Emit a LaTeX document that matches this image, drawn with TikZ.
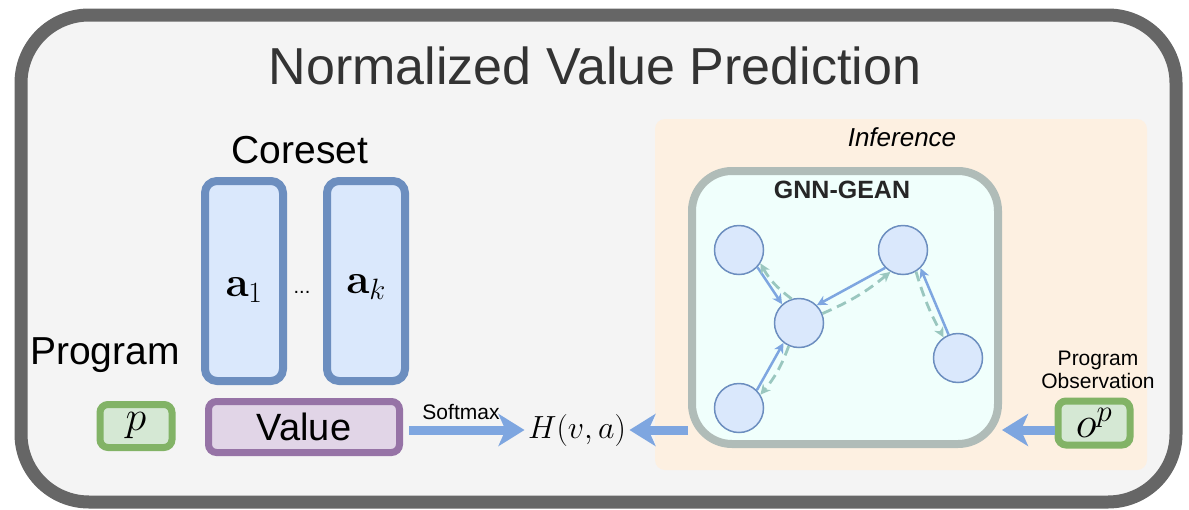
\RequirePackage{fix-cm}
\documentclass[tikz,border=0pt]{standalone}
\usepackage[no-math]{fontspec}
\setmainfont{Liberation Sans}
\usetikzlibrary{arrows.meta}
\definecolor{frame}{HTML}{666666}
\definecolor{bgfill}{HTML}{F4F4F4}
\definecolor{peach}{HTML}{FDF0E1}
\definecolor{gnnstroke}{HTML}{B0BCB8}
\definecolor{gnnfill}{HTML}{F0FFFC}
\definecolor{bluestroke}{HTML}{6C8EBF}
\definecolor{bluefill}{HTML}{DAE8FC}
\definecolor{purstroke}{HTML}{9673A6}
\definecolor{purfill}{HTML}{E1D5E7}
\definecolor{grnstroke}{HTML}{82B366}
\definecolor{grnfill}{HTML}{D5E8D4}
\definecolor{arrblue}{HTML}{7EA6E0}
\definecolor{dashgreen}{HTML}{9AC7BF}
\tikzset{
  fs/.style={font=\fontsize{#1}{#1}\selectfont},
  gnode/.style={circle, draw=bluestroke, fill=bluefill, line width=1.5pt, minimum size=49pt, inner sep=0pt},
  solidedge/.style={draw=arrblue, line width=2.5pt, -{Stealth[length=10pt,width=10pt,inset=3pt]}},
  dashedge/.style={draw=dashgreen, line width=2.8pt, dash pattern=on 10pt off 6pt, -{Stealth[length=10pt,width=10pt,inset=3pt]}},
  bigarrow/.style={draw=arrblue, line width=9pt, -{Stealth[length=26pt,width=32pt,inset=7pt]}},
  corebox/.style={draw=bluestroke, fill=bluefill, line width=8pt, rounded corners=12pt},
}
\begin{document}
\begin{tikzpicture}[x=1pt,y=-1pt]
\useasboundingbox (0,0) rectangle (1189,509);
% outer frame
\draw[draw=frame, fill=bgfill, line width=13pt, rounded corners=68pt] (21,15) rectangle (1176,502);
\node[fs=52, text=black!80] (title) at (595,66) {Normalized Value Prediction};
% inference region
\fill[peach, rounded corners=10pt] (655,119) rectangle (1147,470);
\node[font=\itshape\fontsize{26}{26}\selectfont] (inf) at (902,137) {Inference};
% GNN box
\node[draw=gnnstroke, fill=gnnfill, line width=8pt, rounded corners=40pt, minimum width=306pt, minimum height=273pt, inner sep=0pt] (gnn) at (845,307.5) {};
\node[font=\bfseries\fontsize{25}{25}\selectfont, text=black!85] (gnnlabel) at (842,190) {GNN-GEAN};
% graph nodes
\node[gnode] (n1) at (739,250) {};
\node[gnode] (n2) at (903,250) {};
\node[gnode] (n3) at (799,323) {};
\node[gnode] (n4) at (958,358) {};
\node[gnode] (n5) at (739,408) {};
\draw[solidedge] (n1.-43) -- (n3.132);
\draw[dashedge] (n3.107) to[bend left=12] (n1.-32);
\draw[solidedge] (n2.225) -- (n3.45);
\draw[dashedge] (n3.22) to[bend right=8] (n2.240);
\draw[solidedge] (n5.45) -- (n3.232);
\draw[dashedge] (n3.246) to[bend left=10] (n5.32);
\draw[solidedge] (n4.112) -- (n2.-46);
\draw[dashedge] (n2.-59) to[bend right=6] (n4.125);
% coreset
\node[fs=39] (coreset) at (300,150) {Coreset};
\draw[corebox] (205,181) rectangle (283,381);
\draw[corebox] (327,181) rectangle (405,381);
\node[fs=42] (a1) at (244,290) {$\mathbf{a}_1$};
\node[fs=20] (dots) at (302,292) {...};
\node[fs=42] (ak) at (366,287) {$\mathbf{a}_k$};
\node[draw=purstroke, fill=purfill, line width=7pt, rounded corners=8pt, minimum width=191pt, minimum height=51pt, fs=38, inner sep=0pt] (value) at (304,427) {Value};
% program
\node[fs=39] (program) at (105,355) {Program};
\node[draw=grnstroke, fill=grnfill, line width=7pt, rounded corners=8pt, minimum width=72pt, minimum height=43pt, inner sep=0pt, fs=42] (p) at (136,426) {$p$};
% softmax and H
\node[fs=32] (H) at (577,430) {$H(v,a)$};
\draw[bigarrow] (value.east |- H.west) ++(6,0) -- (H.west);
\node[fs=21] (softmax) at (461,412) {Softmax};
\draw[bigarrow] (gnn.west |- H.east) -- (H.east);
% right
\node[fs=21, align=center] (obs) at (1098,370) {Program\\[2pt]Observation};
\node[draw=grnstroke, fill=grnfill, line width=7pt, rounded corners=8pt, minimum width=72pt, minimum height=44pt, inner sep=0pt, fs=44] (op) at (1094,423) {$o^p$};
\draw[bigarrow] (op.west |- H.east) -- (gnn.east |- H.east);
\end{tikzpicture}
\end{document}
